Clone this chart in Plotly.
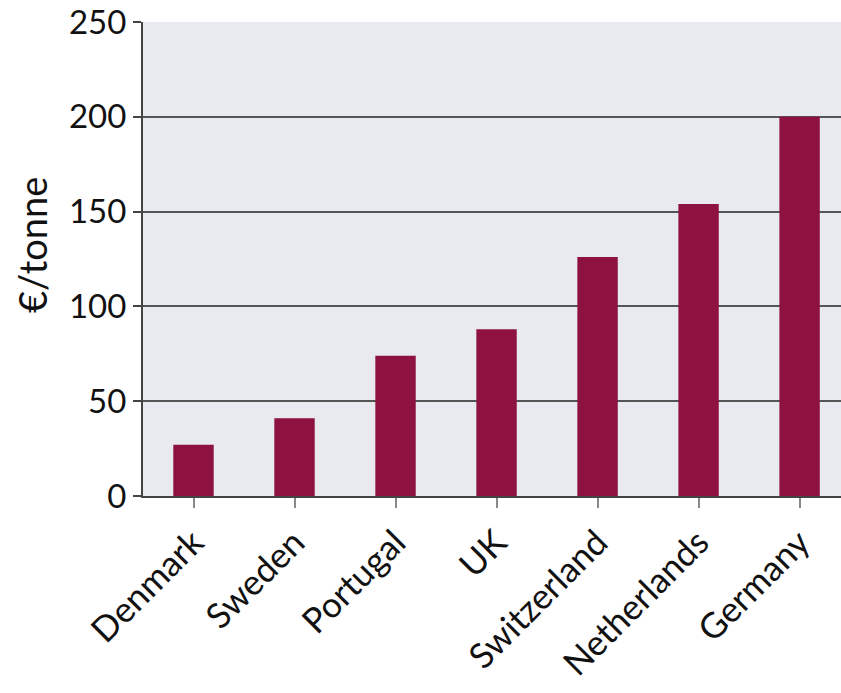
import plotly.graph_objects as go

countries = ["Denmark", "Sweden", "Portugal", "UK", "Switzerland", "Netherlands", "Germany"]
values = [27, 41, 74, 88, 126, 154, 200]
y_ticks = [0, 50, 100, 150, 200, 250]
y_title = "€/tonne"

fig = go.Figure()
fig.add_trace(go.Bar(
    x=list(range(len(countries))),
    y=values,
    marker=dict(color="#8E1240", line=dict(width=0)),
    width=0.4,
))

fig.update_layout(
    width=841, height=693,
    margin=dict(l=143, r=0, t=22, b=197),
    paper_bgcolor="white",
    plot_bgcolor="#E9EAF0",
    showlegend=False,
    font=dict(family="Lato", color="#111"),
)

fig.update_xaxes(
    range=[-0.5, 6.41],
    tickmode="array",
    tickvals=list(range(len(countries))),
    ticktext=countries,
    tickangle=-45,
    tickfont=dict(size=35, family="Lato", color="#111"),
    ticks="outside", ticklen=10, tickcolor="#888", tickwidth=1.5,
    tickson="boundaries",
    showgrid=False,
    showline=True, linecolor="#444", linewidth=2,
    zeroline=False,
)

fig.update_yaxes(
    range=[0, 250],
    tickvals=y_ticks,
    tickfont=dict(size=33, family="Lato", color="#111"),
    ticks="outside", ticklen=8, tickcolor="#444", tickwidth=1.5,
    showgrid=True, gridcolor="#555", gridwidth=1.5,
    showline=True, linecolor="#444", linewidth=2,
    zeroline=False,
)

fig.add_annotation(
    text=y_title, xref="paper", yref="paper",
    x=-0.16, y=0.53, xanchor="center", yanchor="middle",
    textangle=-90, showarrow=False,
    font=dict(size=38, family="Lato", color="#111"),
)

fig.write_html("out.html")
